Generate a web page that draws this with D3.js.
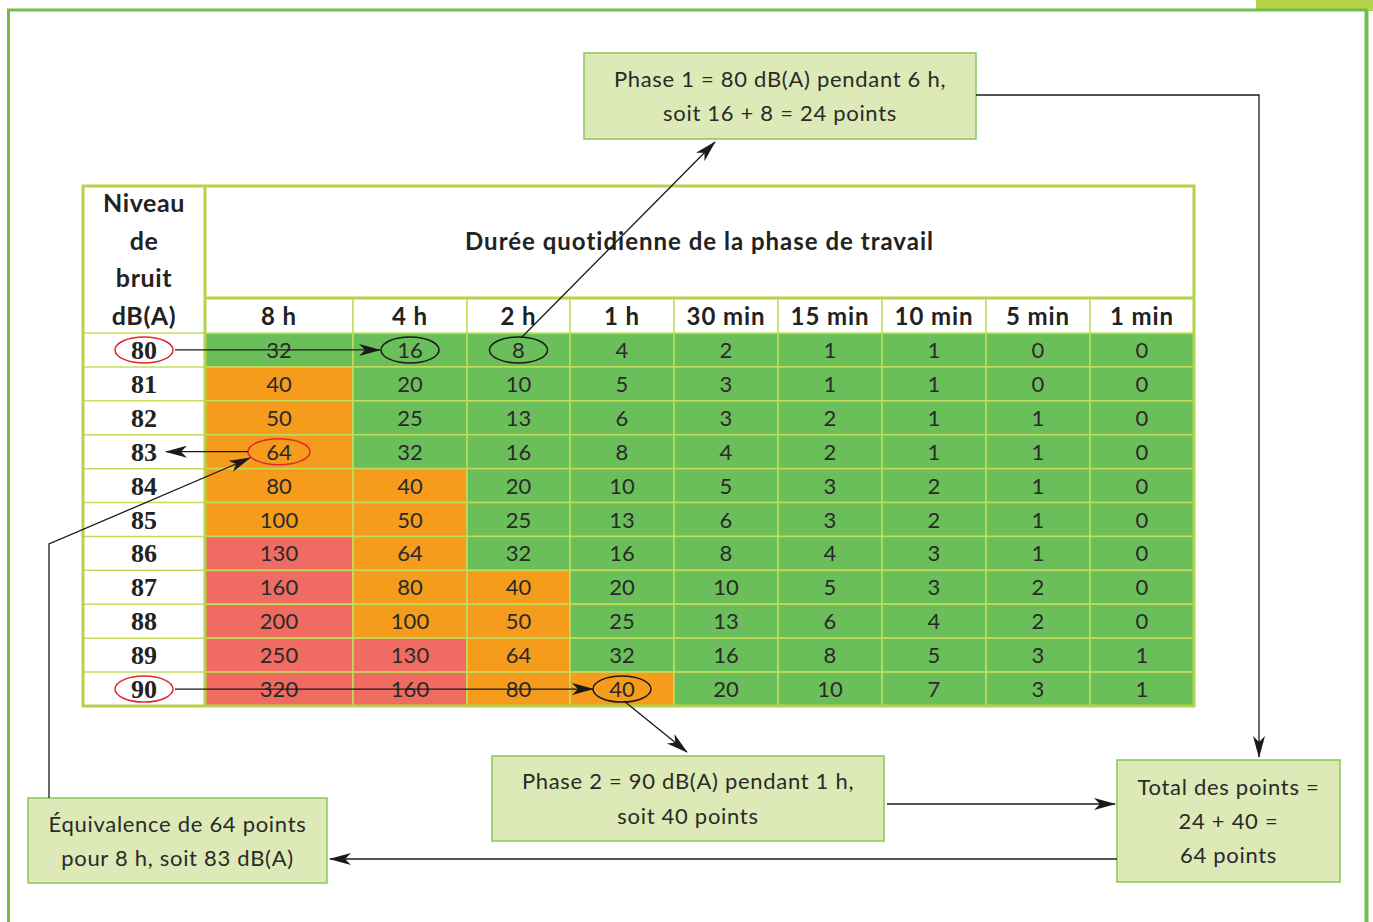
<!DOCTYPE html>
<html><head><meta charset="utf-8">
<script src="https://cdn.jsdelivr.net/npm/d3@7"></script>
<style>
html,body{margin:0;padding:0;background:#fff;}
svg{display:block;}
</style></head>
<body>
<svg id="chart" width="1373" height="922"></svg>
<script>
// ---- data ----
const levels = [80, 81, 82, 83, 84, 85, 86, 87, 88, 89, 90];
const durations = ["8 h", "4 h", "2 h", "1 h", "30 min", "15 min", "10 min", "5 min", "1 min"];
const points80 = [32, 16, 8, 4, 2, 1, 1, 0, 0];
const points81 = [40, 20, 10, 5, 3, 1, 1, 0, 0];
const points82 = [50, 25, 13, 6, 3, 2, 1, 1, 0];
const points83 = [64, 32, 16, 8, 4, 2, 1, 1, 0];
const points84 = [80, 40, 20, 10, 5, 3, 2, 1, 0];
const points85 = [100, 50, 25, 13, 6, 3, 2, 1, 0];
const points86 = [130, 64, 32, 16, 8, 4, 3, 1, 0];
const points87 = [160, 80, 40, 20, 10, 5, 3, 2, 0];
const points88 = [200, 100, 50, 25, 13, 6, 4, 2, 0];
const points89 = [250, 130, 64, 32, 16, 8, 5, 3, 1];
const points90 = [320, 160, 80, 40, 20, 10, 7, 3, 1];
const pointRows = [points80, points81, points82, points83, points84, points85, points86, points87, points88, points89, points90];
const headerLeft = ["Niveau", "de", "bruit", "dB(A)"];
const headerTitle = "Durée quotidienne de la phase de travail";
const phase1Text = ["Phase 1 = 80 dB(A) pendant 6 h,", "soit 16 + 8 = 24 points"];
const phase2Text = ["Phase 2 = 90 dB(A) pendant 1 h,", "soit 40 points"];
const totalText = ["Total des points =", "24 + 40 =", "64 points"];
const equivText = ["Équivalence de 64 points", "pour 8 h, soit 83 dB(A)"];

// ---- layout ----
const svg = d3.select("#chart");
const W = 1373, H = 922;
const tableLeft = 83, labelRight = 205, tableRight = 1194, tableTop = 186, headRowTop = 298, bodyTop = 333, tableBottom = 706;
const colEdges = [205, 353, 467, 570, 674, 778, 882, 986, 1090, 1194];
const xLeft = d3.scaleOrdinal().domain(durations).range(colEdges.slice(0, -1));
const xRight = d3.scaleOrdinal().domain(durations).range(colEdges.slice(1));
const y = d3.scaleBand().domain(levels).range([bodyTop, tableBottom]);
const color = d3.scaleThreshold().domain([33, 101]).range(["#6abf5b", "#f59c1c", "#f06b61"]);
const gridCol = "#c2dd5e", borderCol = "#b3d34a";
const fontBody = "Lato, 'Open Sans', sans-serif";

// defs: arrowhead
const defs = svg.append("defs");
defs.append("marker").attr("id", "arr").attr("viewBox", "0 -6 22 12")
  .attr("refX", 21).attr("refY", 0).attr("markerWidth", 22).attr("markerHeight", 12)
  .attr("markerUnits", "userSpaceOnUse").attr("orient", "auto")
  .append("path").attr("d", "M0,-6 L22,0 L0,6 L6,0 Z").attr("fill", "#1a1a1a");

// outer frame
svg.append("rect").attr("x", 1256).attr("y", 0).attr("width", W - 1256).attr("height", 11).attr("fill", "#b2d34a");
svg.append("path").attr("d", `M8.5,${H} L8.5,10 L1366,10 L1366,${H}`).attr("fill", "none").attr("stroke", "#6dbf4a").attr("stroke-width", 3);
svg.append("line").attr("x1", 1367).attr("x2", 1367).attr("y1", 10).attr("y2", H).attr("stroke", "#6dbf4a").attr("stroke-width", 3);

// table cells
const g = svg.append("g");
levels.forEach((lv, i) => {
  durations.forEach((d, j) => {
    const v = pointRows[i][j];
    g.append("rect").attr("x", xLeft(d)).attr("y", y(lv))
      .attr("width", xRight(d) - xLeft(d)).attr("height", y.bandwidth())
      .attr("fill", color(v)).attr("stroke", gridCol).attr("stroke-width", 1.5);
    g.append("text").attr("x", (xLeft(d) + xRight(d)) / 2).attr("y", y(lv) + y.bandwidth() / 2 + 8)
      .attr("text-anchor", "middle").attr("font-family", fontBody).attr("font-size", 22)
      .attr("fill", "#2a2a2a").text(v);
  });
  g.append("line").attr("x1", tableLeft).attr("x2", labelRight).attr("y1", y(lv)).attr("y2", y(lv))
    .attr("stroke", gridCol).attr("stroke-width", 1.5);
  g.append("text").attr("x", (tableLeft + labelRight) / 2).attr("y", y(lv) + y.bandwidth() / 2 + 9)
    .attr("text-anchor", "middle").attr("font-family", "'Liberation Serif', 'DejaVu Serif', serif")
    .attr("font-weight", "bold").attr("font-size", 26).attr("fill", "#222").text(lv);
});

// header row
durations.forEach(d => {
  g.append("rect").attr("x", xLeft(d)).attr("y", headRowTop).attr("width", xRight(d) - xLeft(d))
    .attr("height", bodyTop - headRowTop).attr("fill", "#fff").attr("stroke", gridCol).attr("stroke-width", 1.5);
  g.append("text").attr("x", (xLeft(d) + xRight(d)) / 2).attr("y", 325)
    .attr("text-anchor", "middle").attr("font-family", fontBody).attr("font-weight", "bold")
    .attr("font-size", 24).attr("letter-spacing", 0.9).attr("fill", "#222").text(d);
});
g.append("line").attr("x1", labelRight).attr("x2", tableRight).attr("y1", headRowTop).attr("y2", headRowTop)
  .attr("stroke", borderCol).attr("stroke-width", 3);
g.append("line").attr("x1", labelRight).attr("x2", labelRight).attr("y1", tableTop).attr("y2", tableBottom)
  .attr("stroke", borderCol).attr("stroke-width", 3);
g.append("rect").attr("x", tableLeft).attr("y", tableTop).attr("width", tableRight - tableLeft)
  .attr("height", tableBottom - tableTop).attr("fill", "none").attr("stroke", borderCol).attr("stroke-width", 3);

headerLeft.forEach((t, i) => {
  g.append("text").attr("x", (tableLeft + labelRight) / 2).attr("y", 212 + i * 37.5)
    .attr("text-anchor", "middle").attr("font-family", fontBody).attr("font-weight", "bold")
    .attr("font-size", 25).attr("letter-spacing", 0.6).attr("fill", "#222").text(t);
});
g.append("text").attr("x", (labelRight + tableRight) / 2).attr("y", 250)
  .attr("text-anchor", "middle").attr("font-family", fontBody).attr("font-weight", "bold")
  .attr("font-size", 24).attr("letter-spacing", 1.0).attr("fill", "#222").text(headerTitle);

// boxes
function box(x, y0, w, h, lines, lineGap, firstY) {
  svg.append("rect").attr("x", x).attr("y", y0).attr("width", w).attr("height", h)
    .attr("fill", "#dde9b6").attr("stroke", "#86c75a").attr("stroke-width", 1.5);
  lines.forEach((t, i) => {
    svg.append("text").attr("x", x + w / 2).attr("y", firstY + i * lineGap)
      .attr("text-anchor", "middle").attr("font-family", fontBody).attr("font-size", 22)
      .attr("letter-spacing", 0.7).attr("fill", "#2a2a2a").text(t);
  });
}
box(584, 53, 392, 86, phase1Text, 34, 87);
box(492, 756, 392, 85, phase2Text, 35, 789);
box(1117, 760, 223, 122, totalText, 34, 795);
box(28, 798, 299, 85, equivText, 34, 832);

// ellipses
const ann = svg.append("g");
function ell(cx, cy, rx, stroke) {
  ann.append("ellipse").attr("cx", cx).attr("cy", cy).attr("rx", rx).attr("ry", 13)
    .attr("fill", "none").attr("stroke", stroke).attr("stroke-width", 1.5);
}
const cx = d => (xLeft(d) + xRight(d)) / 2;
const cy = lv => y(lv) + y.bandwidth() / 2;
ell((tableLeft + labelRight) / 2, cy(80), 29, "#e0282d");
ell((tableLeft + labelRight) / 2, cy(90), 29, "#e0282d");
ell(cx("8 h"), cy(83), 31, "#e0282d");
ell(cx("4 h"), cy(80), 29, "#1a1a1a");
ell(cx("2 h"), cy(80), 29, "#1a1a1a");
ell(cx("1 h"), cy(90), 29, "#1a1a1a");

// arrows
function arrow(pts, marker = true) {
  ann.append("path").attr("d", d3.line()(pts)).attr("fill", "none")
    .attr("stroke", "#1a1a1a").attr("stroke-width", 1.3)
    .attr("marker-end", marker ? "url(#arr)" : null);
}
arrow([[175, cy(80)], [380, cy(80)]]);
arrow([[175, cy(90)], [593, cy(90)]]);
arrow([[521, 338], [715, 142]]);
arrow([[624, 701], [687, 752]]);
arrow([[976, 95], [1259, 95], [1259, 757]]);
arrow([[887, 804], [1115, 804]]);
arrow([[1117, 859], [330, 859]]);
arrow([[49, 798], [49, 544], [250, 458]]);
arrow([[248, cy(83)], [166, cy(83)]]);
</script>
</body></html>
